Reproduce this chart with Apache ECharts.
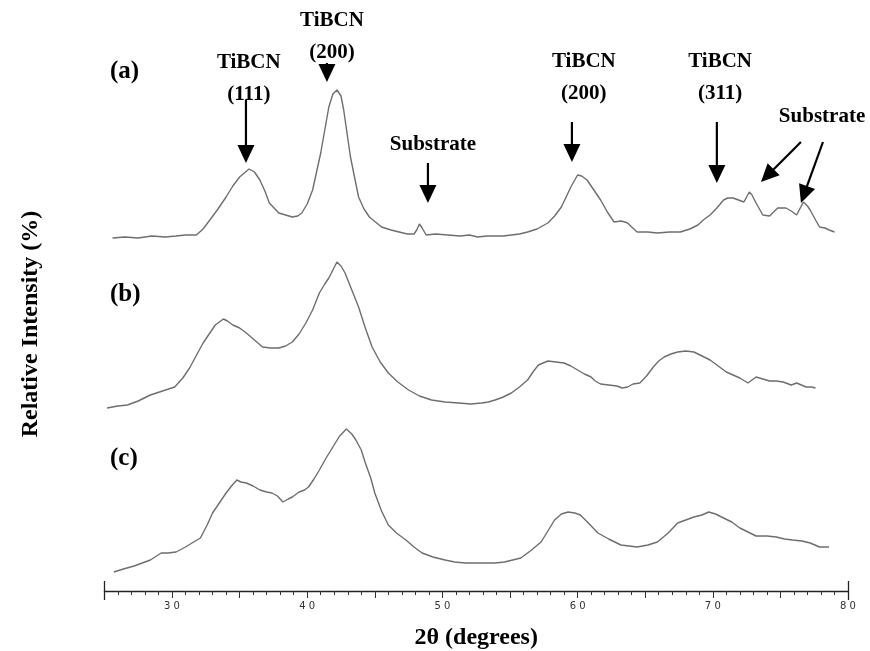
<!DOCTYPE html>
<html>
<head>
<meta charset="utf-8">
<script src="https://cdn.jsdelivr.net/npm/echarts@6/dist/echarts.min.js"></script>
<style>html,body{margin:0;padding:0;background:#fff}#c{width:870px;height:651px}</style>
</head>
<body>
<div id="c"></div>
<script>
// ---- Data (2θ in degrees, relative intensity above each pattern's baseline) ----
const xTickLabels = [30, 40, 50, 60, 70, 80];
const curveNames = ['(a)', '(b)', '(c)'];
const curveOffsets = [351, 181, 16];

const curveA = [[25.6,2],[26.5,3],[27.5,2],[28.5,4],[29.5,3],[30.3,4],[31.0,5],[31.8,5],[32.3,11],[32.8,20],[33.4,31],[34.0,43],[34.5,54],[35.0,63],[35.7,71],[36.1,68],[36.5,60],[36.9,48],[37.2,37],[37.9,27],[38.4,25],[38.9,23],[39.3,24],[39.6,27],[40.0,36],[40.4,50],[41.0,87],[41.6,133],[41.9,146],[42.2,150],[42.5,144],[42.7,130],[43.2,83],[43.8,43],[44.2,31],[44.6,23],[45.5,13],[46.2,10],[46.8,8],[47.4,6],[47.9,6],[48.1,10],[48.3,16],[48.5,12],[48.8,5],[49.5,6],[50.4,5],[51.3,4],[52.0,5],[52.6,3],[53.3,4],[53.9,4],[54.5,4],[55.1,5],[55.7,6],[56.3,8],[57.0,11],[57.8,17],[58.3,24],[58.8,33],[59.5,53],[60.0,65],[60.3,64],[60.7,60],[61.2,50],[61.7,40],[62.2,28],[62.7,18],[63.2,19],[63.5,18],[63.7,17],[64.0,13],[64.4,8],[65.2,8],[65.9,7],[66.8,8],[67.6,8],[68.3,11],[68.9,15],[69.3,20],[69.8,25],[70.3,32],[70.8,40],[71.1,42],[71.5,42],[71.9,40],[72.3,38],[72.7,48],[72.9,45],[73.2,37],[73.7,25],[74.2,24],[74.8,32],[75.4,32],[75.8,29],[76.2,25],[76.7,38],[77.0,34],[77.2,30],[77.6,20],[77.9,13],[78.3,12],[78.6,10],[79.0,8]];

const curveB = [[25.2,2],[26.0,4],[26.7,5],[27.5,9],[28.4,15],[29.3,19],[30.2,23],[30.8,32],[31.3,42],[32.3,67],[33.2,85],[33.8,91],[34.1,89],[34.5,85],[35.0,82],[35.5,77],[36.1,70],[36.7,63],[37.3,62],[37.9,62],[38.4,64],[38.9,68],[39.4,76],[39.9,87],[40.4,100],[40.9,117],[41.3,126],[41.6,132],[42.2,148],[42.5,144],[42.8,137],[43.3,120],[43.8,103],[44.3,82],[44.8,63],[45.4,48],[46.0,37],[46.7,28],[47.5,20],[48.3,14],[49.2,10],[50.2,8],[51.2,7],[52.1,6],[52.9,7],[53.4,8],[53.9,10],[54.5,13],[55.1,17],[55.7,23],[56.3,30],[56.7,38],[57.1,45],[57.8,49],[58.4,48],[59.0,47],[59.5,44],[60.0,40],[60.5,36],[61.0,33],[61.3,29],[61.7,26],[62.3,25],[62.9,24],[63.3,22],[63.7,23],[64.1,26],[64.6,27],[65.1,34],[65.6,43],[66.0,49],[66.4,53],[66.9,56],[67.4,58],[68.0,59],[68.6,58],[69.2,54],[69.8,50],[70.4,44],[71.0,38],[71.5,35],[72.0,32],[72.6,27],[73.2,33],[73.7,31],[74.2,29],[74.7,29],[75.2,28],[75.8,25],[76.2,27],[76.9,23],[77.3,23],[77.6,22]];

const curveC = [[25.7,3],[26.4,6],[27.2,9],[27.8,12],[28.4,15],[29.2,22],[29.7,22],[30.3,23],[31.0,28],[31.6,33],[32.1,37],[32.6,50],[33.0,62],[33.5,72],[34.0,82],[34.4,89],[34.8,95],[35.1,93],[35.5,92],[36.0,89],[36.5,85],[37.0,83],[37.4,82],[37.8,79],[38.2,73],[38.6,76],[38.9,78],[39.4,83],[39.8,85],[40.1,88],[40.5,96],[40.9,105],[41.4,117],[41.9,128],[42.4,139],[42.9,146],[43.3,141],[43.6,135],[44.0,125],[44.3,112],[44.7,97],[45.0,82],[45.5,64],[46.0,50],[46.6,42],[47.3,35],[47.9,28],[48.5,22],[49.3,18],[50.2,15],[50.9,13],[51.7,12],[52.8,12],[53.9,12],[54.6,13],[55.2,15],[55.8,17],[56.5,24],[57.3,33],[57.8,44],[58.3,55],[58.8,61],[59.3,63],[59.8,62],[60.2,60],[60.8,52],[61.5,42],[62.3,36],[63.2,30],[63.8,29],[64.4,28],[65.2,30],[65.9,33],[66.7,42],[67.4,52],[68.0,55],[68.6,58],[69.2,60],[69.7,63],[70.2,61],[70.8,57],[71.4,53],[72.0,47],[72.6,43],[73.2,39],[74.0,39],[74.7,38],[75.3,36],[75.9,35],[76.6,34],[77.2,32],[77.9,28],[78.6,28]];

// ---- Annotations: arrow tips (2θ, plot value) and label anchors ----
const annArrowTips = [[35.47,428],[41.46,509],[48.93,388],[59.58,429],[70.30,408],[73.56,409],[76.52,388]];
const annArrowStart = [[0,-63],[0,-19],[0,-40],[0,-40],[0,-61],[40,-40],[22,-61]]; // pixel offsets of arrow tails
const annLabels = ['TiBCN\n(111)','TiBCN\n(200)','Substrate','TiBCN\n(200)','TiBCN\n(311)','Substrate'];
const annLabelPos = [[35.68,512.5],[41.83,554],[49.30,446],[60.46,513.5],[70.54,513.5],[78.08,474]];

const SERIF = '"Liberation Serif","Times New Roman",serif';
const chart = echarts.init(document.getElementById('c'), null, {renderer:'canvas'});

function shifted(arr, off){ return arr.map(p => [p[0], p[1] + off]); }
const curves = [curveA, curveB, curveC];

const lineSeries = curves.map((c, i) => ({
  type: 'line', name: curveNames[i], data: shifted(c, curveOffsets[i]),
  xAxisIndex: 0, yAxisIndex: 0, showSymbol: false, smooth: false,
  lineStyle: {color: '#6e6e6e', width: 1.4}, silent: true, animation: false, z: 3
}));

const baseX = {type:'value', min:25, max:80, position:'bottom', splitLine:{show:false}};

const option = {
  animation: false,
  grid: {left: 104.4, right: 22, top: 40, bottom: 60, containLabel: false, outerBoundsMode: 'none'},
  xAxis: [
    Object.assign({}, baseX, {
      interval: 1,
      axisLine: {show:true, lineStyle:{color:'#222', width:1.3}},
      axisTick: {show:true, length:4, lineStyle:{color:'#333', width:1}},
      axisLabel: {show:false},
      name: '2θ (degrees)', nameLocation: 'middle', nameGap: 35,
      nameTextStyle: {fontFamily: SERIF, fontWeight: 'bold', fontSize: 24, color: '#000'}
    }),
    Object.assign({}, baseX, {
      interval: 5,
      axisLine: {show:false},
      axisTick: {show:true, length:7, lineStyle:{color:'#333', width:1}},
      axisLabel: {show:true, margin: 10, color:'#333', fontSize: 10, fontFamily: '"DejaVu Sans",sans-serif',
        formatter: v => xTickLabels.indexOf(v) >= 0 ? String(v).split('').join(' ') : ''}
    }),
    Object.assign({}, baseX, {
      interval: 55,
      axisLine: {show:false},
      axisTick: {show:true, inside:true, length:10, lineStyle:{color:'#222', width:1.3}},
      axisLabel: {show:false}
    }),
    Object.assign({}, baseX, {
      interval: 55,
      axisLine: {show:false},
      axisTick: {show:true, length:9, lineStyle:{color:'#222', width:1.3}},
      axisLabel: {show:false}
    })
  ],
  yAxis: {type:'value', min:0, max:551, show:false},
  graphic: [
    {type:'text', x:31, y:324, rotation: Math.PI/2,
      style:{text:'Relative Intensity (%)', font:'bold 24px ' + SERIF, fill:'#000', align:'center', verticalAlign:'middle'}},
    {type:'text', x:110, y:72, style:{text:curveNames[0], font:'bold 25px ' + SERIF, fill:'#000', align:'left', verticalAlign:'middle'}},
    {type:'text', x:110, y:295, style:{text:curveNames[1], font:'bold 25px ' + SERIF, fill:'#000', align:'left', verticalAlign:'middle'}},
    {type:'text', x:110, y:459, style:{text:curveNames[2], font:'bold 25px ' + SERIF, fill:'#000', align:'left', verticalAlign:'middle'}}
  ],
  series: lineSeries.concat([
    {
      type: 'custom', coordinateSystem: 'cartesian2d', xAxisIndex: 0, yAxisIndex: 0,
      data: annArrowTips, clip: false, silent: true, z: 5,
      renderItem: function(params, api){
        const tip = api.coord([api.value(0), api.value(1)]);
        const off = annArrowStart[params.dataIndex];
        const sx = tip[0] + off[0], sy = tip[1] + off[1];
        const dx = tip[0]-sx, dy = tip[1]-sy; const L = Math.sqrt(dx*dx+dy*dy);
        const ux = dx/L, uy = dy/L; const px = -uy, py = ux;
        const hl = 18, hw = 8.5;
        const bx = tip[0]-ux*hl, by = tip[1]-uy*hl;
        const children = [];
        if (L > hl) children.push({type:'line', shape:{x1:sx, y1:sy, x2:bx+ux*2, y2:by+uy*2}, style:{stroke:'#000', lineWidth:2.2}});
        children.push({type:'polygon', shape:{points:[[tip[0],tip[1]],[bx+px*hw,by+py*hw],[bx-px*hw,by-py*hw]]}, style:{fill:'#000'}});
        return {type:'group', children: children};
      }
    },
    {
      type: 'custom', coordinateSystem: 'cartesian2d', xAxisIndex: 0, yAxisIndex: 0,
      data: annLabelPos, clip: false, silent: true, z: 5,
      renderItem: function(params, api){
        const p = api.coord([api.value(0), api.value(1)]);
        return {type:'text', x:p[0], y:p[1], style:{text: annLabels[params.dataIndex], font:'bold 21px ' + SERIF,
          fill:'#000', align:'center', verticalAlign:'middle', lineHeight: 32}};
      }
    }
  ])
};
chart.setOption(option);
</script>
</body>
</html>
